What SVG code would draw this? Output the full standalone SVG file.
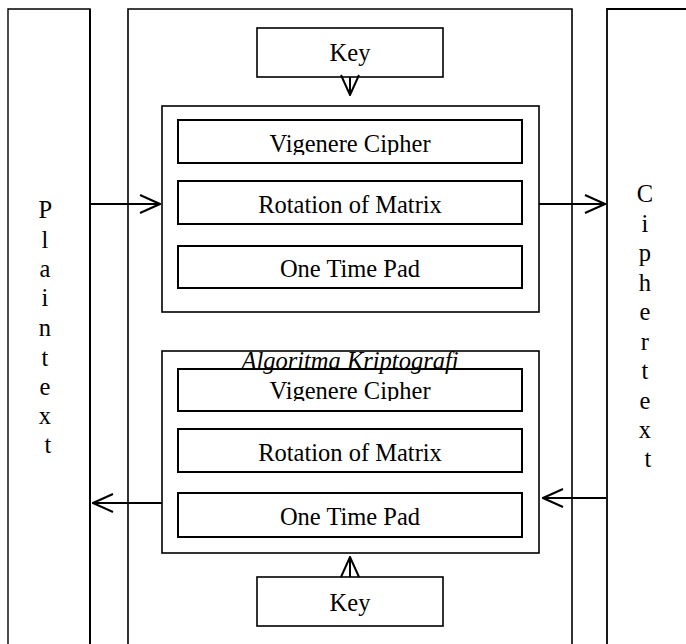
<svg xmlns="http://www.w3.org/2000/svg" width="686" height="644" viewBox="0 0 686 644">
  <style>
    .box { fill: #fff; stroke: #000; stroke-width: 1.6; }
    .inner { fill: #fff; stroke: #000; stroke-width: 2; }
    .lbl { font-family: "Liberation Serif", "Times New Roman", serif; font-size: 24.5px; fill: #000; text-anchor: middle; }
    .ital { font-style: italic; }
    .wire { fill: none; stroke: #000; stroke-width: 2; }
  </style>
  <defs>
    <marker id="open" viewBox="0 0 22 20" refX="21" refY="10" markerWidth="22" markerHeight="20" markerUnits="userSpaceOnUse" orient="auto">
      <path d="M1,1 L21,10 L1,19" fill="none" stroke="#000" stroke-width="2"/>
    </marker>
    <clipPath id="clipTopV"><rect x="178" y="120" width="344" height="35"/></clipPath>
    <clipPath id="clipBotV"><rect x="178" y="340" width="344" height="61"/></clipPath>
  </defs>
  <rect width="686" height="644" fill="#fff"/>

  <!-- side panels and main frame -->
  <g id="plaintext">
    <path d="M8,650 V9 H90 V650" fill="#fff" stroke="#000" stroke-width="1.4"/>
    <line x1="90" y1="9" x2="90" y2="650" stroke="#000" stroke-width="2"/>
    <text class="lbl" x="48">
      <tspan x="48" y="218">P</tspan>
      <tspan x="48" y="248">l</tspan>
      <tspan x="48" y="277">a</tspan>
      <tspan x="48" y="306">i</tspan>
      <tspan x="48" y="336">n</tspan>
      <tspan x="48" y="366">t</tspan>
      <tspan x="48" y="395">e</tspan>
      <tspan x="48" y="424">x</tspan>
      <tspan x="48" y="453">t</tspan>
    </text>
  </g>

  <g id="main-frame">
    <path d="M128,650 V9 H572 V650" fill="#fff" stroke="#000" stroke-width="1.6"/>
  </g>

  <g id="ciphertext">
    <path d="M607,650 V9 H690" fill="#fff" stroke="#000" stroke-width="1.8"/>
    <text class="lbl">
      <tspan x="648" y="202">C</tspan>
      <tspan x="648" y="232">i</tspan>
      <tspan x="648" y="261">p</tspan>
      <tspan x="648" y="291">h</tspan>
      <tspan x="648" y="320">e</tspan>
      <tspan x="648" y="350">r</tspan>
      <tspan x="648" y="379">t</tspan>
      <tspan x="648" y="409">e</tspan>
      <tspan x="648" y="438">x</tspan>
      <tspan x="648" y="467">t</tspan>
    </text>
  </g>

  <!-- encryption chain -->
  <g id="key-top">
    <rect class="box" x="257" y="28" width="186" height="49"/>
    <text class="lbl" x="350" y="61">Key</text>
  </g>

  <g id="encrypt-group">
    <rect class="box" x="162" y="106" width="377" height="206"/>
  </g>
  <g id="enc-vigenere">
    <rect class="inner" x="178" y="120" width="344" height="43"/>
    <text class="lbl" x="350" y="152" clip-path="url(#clipTopV)">Vigenere Cipher</text>
  </g>
  <g id="enc-rotation">
    <rect class="inner" x="178" y="181" width="344" height="43"/>
    <text class="lbl" x="350" y="213">Rotation of Matrix</text>
  </g>
  <g id="enc-otp">
    <rect class="inner" x="178" y="246" width="344" height="42"/>
    <text class="lbl" x="350" y="277">One Time Pad</text>
  </g>

  <!-- decryption chain -->
  <g id="decrypt-group">
    <rect class="box" x="162" y="351" width="377" height="202"/>
  </g>
  <g id="dec-vigenere">
    <rect class="inner" x="178" y="369" width="344" height="42"/>
    <text class="lbl" x="350" y="399" clip-path="url(#clipBotV)">Vigenere Cipher</text>
  </g>
  <g id="group-title">
    <text class="lbl ital" x="350" y="369">Algoritma Kriptografi</text>
  </g>
  <g id="dec-rotation">
    <rect class="inner" x="178" y="429" width="344" height="43"/>
    <text class="lbl" x="350" y="461">Rotation of Matrix</text>
  </g>
  <g id="dec-otp">
    <rect class="inner" x="178" y="493" width="344" height="44"/>
    <text class="lbl" x="350" y="525">One Time Pad</text>
  </g>

  <g id="key-bottom">
    <rect class="box" x="257" y="577" width="186" height="49"/>
    <text class="lbl" x="350" y="611">Key</text>
  </g>

  <!-- connectors -->
  <g id="connectors">
    <line class="wire" x1="90" y1="204" x2="160" y2="204" marker-end="url(#open)"/>
    <line class="wire" x1="539" y1="204" x2="605" y2="204" marker-end="url(#open)"/>
    <line class="wire" x1="350" y1="77" x2="350" y2="95" marker-end="url(#open)"/>
    <line class="wire" x1="606" y1="498" x2="543" y2="498" marker-end="url(#open)"/>
    <line class="wire" x1="162" y1="503" x2="93" y2="503" marker-end="url(#open)"/>
    <line class="wire" x1="350" y1="577" x2="350" y2="557" marker-end="url(#open)"/>
  </g>
</svg>
